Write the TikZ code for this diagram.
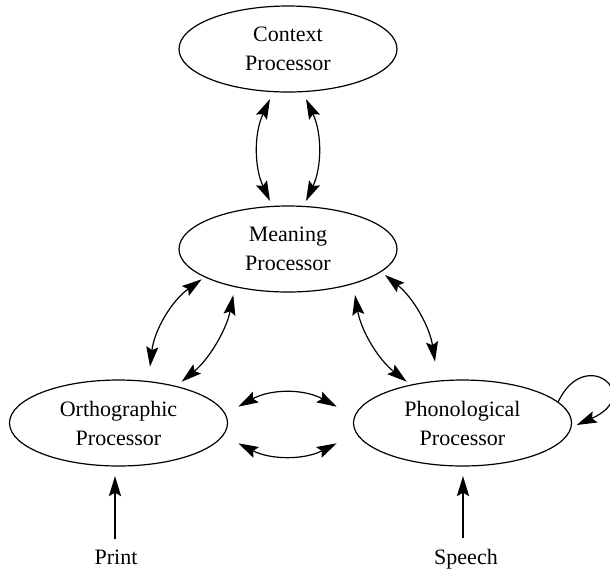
\documentclass[tikz,border=0pt]{standalone}
\usepackage{fontspec}
\setmainfont{Liberation Serif}
\usetikzlibrary{shapes.geometric,arrows.meta,calc}
\begin{document}
\begin{tikzpicture}[x=0.75pt,y=-0.75pt,
  proc/.style={ellipse,draw,line width=0.9pt,minimum width=163.5pt,minimum height=64.5pt,
    inner sep=0pt,align=center,font=\fontsize{16.5}{21.75}\selectfont},
  lbl/.style={anchor=base,inner sep=0pt,font=\fontsize{16.5}{21.75}\selectfont},
  link/.style={line width=0.9pt,{Stealth[length=15pt,width=9pt,inset=2.5pt]}-{Stealth[length=15pt,width=9pt,inset=2.5pt]}},
  loopline/.style={line width=0.9pt,-{Stealth[length=15pt,width=9pt,inset=2.5pt]}},
  feed/.style={line width=1.8pt,-{Stealth[length=15pt,width=9pt,inset=2.5pt]}}]
\useasboundingbox (0,0) rectangle (610,569);
\node[proc] (ctx)  at (288,49)    {Context\\Processor};
\node[proc] (mean) at (288,249)   {Meaning\\Processor};
\node[proc] (orth) at (118.5,423) {Orthographic\\Processor};
\node[proc] (phon) at (462.5,423) {Phonological\\Processor};
\node[lbl] (print)  at (116,564) {Print};
\node[lbl] (speech) at (466,564) {Speech};
% context <-> meaning
\draw[link] ($(ctx)+(-18,50)$) .. controls (254,133) and (254,167) .. ($(mean)+(-18,-48)$);
\draw[link] ($(ctx)+(18,50)$) .. controls (322,133) and (322,167) .. ($(mean)+(18,-48)$);
% meaning <-> orthographic
\draw[link] ($(mean)+(-86.3,30.3)$) .. controls (171.6,300.8) and (154.3,330) .. ($(orth)+(31.5,-56.3)$);
\draw[link] ($(mean)+(-54.7,46)$) .. controls (226.4,330) and (209.2,358.9) .. ($(orth)+(63.2,-41.3)$);
% meaning <-> phonological
\draw[link] ($(mean)+(97,26)$) .. controls (413,297.4) and (429.6,326.3) .. ($(phon)+(-27.5,-61.3)$);
\draw[link] ($(mean)+(67,46)$) .. controls (361,330.6) and (378.3,359.5) .. ($(phon)+(-55.8,-41.3)$);
% orthographic <-> phonological
\draw[link] ($(orth)+(119.8,-16.3)$) .. controls (271,388.7) and (304,388.7) .. ($(phon)+(-125.8,-16.3)$);
\draw[link] ($(orth)+(119.8,20.3)$) .. controls (271,460) and (304,460) .. ($(phon)+(-125.8,20.3)$);
% self loop
\draw[loopline] ($(phon)+(95.8,-21.3)$) .. controls (585,345) and (645,395) .. ($(phon)+(114.2,2)$);
% inputs
\draw[feed] ($(print.north)+(-1,-10)$) -- ($(orth)+(-3.5,53)$);
\draw[feed] ($(speech.north)+(-3,-10)$) -- ($(phon)+(0.5,53)$);
\end{tikzpicture}
\end{document}
